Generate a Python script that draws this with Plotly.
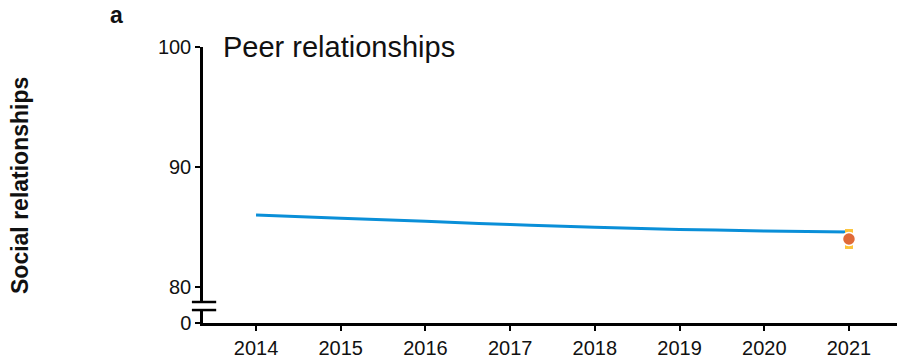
import plotly.graph_objects as go

# Trend of peer-relationship scores over the years
years = [2014, 2015, 2016, 2017, 2018, 2019, 2020, 2021]
trend = [86.0, 85.72, 85.47, 85.2, 84.97, 84.8, 84.67, 84.58]

# Observed value for the final year with its uncertainty
obs_year = [2021]
obs_value = [84.0]
obs_err = [0.83]

# Broken y axis: the value 0 is drawn at position 77, just below 80
y_tickvals = [77, 80, 90, 100]
y_ticktext = ["0", "80", "90", "100"]

FONT = "Liberation Sans, Arial, sans-serif"

fig = go.Figure()
fig.add_trace(go.Scatter(
    x=years, y=trend, mode="lines",
    line=dict(color="#0a8fd8", width=3, shape="spline"),
    showlegend=False, hoverinfo="skip",
))
fig.add_trace(go.Scatter(
    x=obs_year, y=obs_value, mode="markers",
    marker=dict(color="#e06a38", size=13, line=dict(color="white", width=1.5)),
    error_y=dict(type="data", array=obs_err, visible=True,
                 color="#fcc337", thickness=8, width=0),
    showlegend=False,
))

fig.update_layout(
    width=899, height=362,
    margin=dict(l=203, r=2, t=47, b=39),
    plot_bgcolor="white", paper_bgcolor="white",
    font=dict(family=FONT, size=20, color="#111111"),
    xaxis=dict(
        range=[2013.374, 2021.567], tickvals=years,
        showline=True, linecolor="black", linewidth=2.5,
        ticks="outside", ticklen=5, tickwidth=1.5, tickcolor="black",
        showgrid=False, zeroline=False,
        tickfont=dict(size=20, family=FONT),
    ),
    yaxis=dict(
        range=[77, 100], tickvals=y_tickvals, ticktext=y_ticktext,
        showline=True, linecolor="black", linewidth=2.5,
        ticks="outside", ticklen=5, tickwidth=1.5, tickcolor="black",
        showgrid=False, zeroline=False,
        tickfont=dict(size=20, family=FONT),
    ),
)

# Axis break: blank out a short stretch of the y axis and mark it with two bars
fig.add_shape(type="rect", xref="paper", yref="y",
              x0=-0.01, x1=0.01, y0=78.1, y1=78.72,
              fillcolor="white", line=dict(width=0), layer="above")
for yb in (78.08, 78.75):
    fig.add_shape(type="line", xref="paper", yref="y",
                  x0=-0.016, x1=0.019, y0=yb, y1=yb,
                  line=dict(color="black", width=2.5), layer="above")

fig.add_annotation(text="Peer relationships", xref="paper", yref="paper",
                   x=0.026, y=1.0, xanchor="left", yanchor="middle",
                   showarrow=False, font=dict(size=29, family=FONT))
fig.add_annotation(text="<b>a</b>", xref="paper", yref="paper",
                   x=-0.125, y=1.115, xanchor="center", yanchor="middle",
                   showarrow=False, font=dict(size=23, family=FONT))
fig.add_annotation(text="<b>Social relationships</b>", xref="paper", yref="paper",
                   x=-0.2637, y=0.5, xanchor="center", yanchor="middle",
                   textangle=-90, showarrow=False, font=dict(size=23, family=FONT))

fig.write_html("out.html")
